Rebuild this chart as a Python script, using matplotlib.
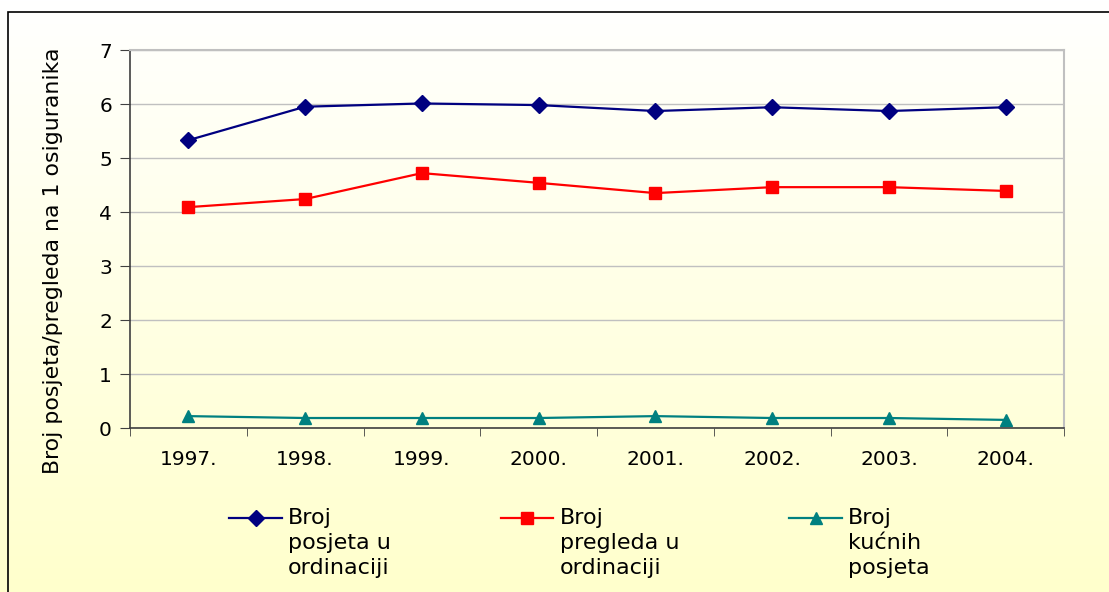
import numpy as np
import matplotlib
matplotlib.use("Agg")
import matplotlib.pyplot as plt
from matplotlib.patches import Rectangle
from matplotlib.lines import Line2D

# data
years = ["1997.", "1998.", "1999.", "2000.", "2001.", "2002.", "2003.", "2004."]
posjete_ordinacija = [5.33, 5.95, 6.01, 5.98, 5.87, 5.94, 5.87, 5.94]
pregledi_ordinacija = [4.09, 4.24, 4.72, 4.54, 4.35, 4.46, 4.46, 4.39]
kucne_posjete = [0.22, 0.185, 0.185, 0.185, 0.22, 0.185, 0.185, 0.15]
labels = ["Broj\nposjeta u\nordinaciji", "Broj\npregleda u\nordinaciji", "Broj\nkućnih\nposjeta"]

plt.rcParams['font.family'] = ['DejaVu Sans']

W, H = 1109, 592
fig = plt.figure(figsize=(W / 100, H / 100), dpi=100)


def fx(px):
    return px / W


def fy(py):
    return 1 - py / H


# background gradient white -> pale yellow
bg = fig.add_axes([0, 0, 1, 1], zorder=-10)
grad = np.linspace(0, 1, 256).reshape(-1, 1)
top = np.array([1.0, 1.0, 1.0])
bottom = np.array([1.0, 1.0, 0.80])
img = top + (bottom - top) * grad[:, :, None]
bg.imshow(img, aspect='auto', extent=[0, 1, 0, 1], origin='upper')
bg.set_xlim(0, 1)
bg.set_ylim(0, 1)
bg.axis('off')
bg.add_patch(Rectangle((fx(8), -0.01), 1.02, fy(12) + 0.01,
                       fill=False, edgecolor='black', linewidth=1.2))

ax = fig.add_axes([fx(130), fy(428), fx(1064) - fx(130), fy(50) - fy(428)])
ax.set_facecolor('none')

x = np.arange(len(years))
ax.plot(x, posjete_ordinacija, color='#000080', marker='D', markersize=8, linewidth=1.6)
ax.plot(x, pregledi_ordinacija, color='#FF0000', marker='s', markersize=8, linewidth=1.6)
ax.plot(x, kucne_posjete, color='#008080', marker='^', markersize=9, linewidth=1.6)

ax.set_xlim(-0.5, len(years) - 0.5)
ax.set_ylim(0, 7)
ax.set_yticks(range(0, 8))
ax.set_xticks(x)
ax.set_xticklabels(years)
ax.set_xticks(np.arange(-0.5, len(years)), minor=True)
ax.tick_params(axis='x', which='major', length=0, pad=16, labelsize=14.5)
ax.tick_params(axis='x', which='minor', length=6, direction='out', color='#404040')
ax.tick_params(axis='y', length=7, direction='out', color='#404040', labelsize=14.5, pad=6)
ax.grid(axis='y', color='#c0c0c0', linewidth=1)
ax.set_axisbelow(True)

for s in ['top', 'right']:
    ax.spines[s].set_color('#c0c0c0')
    ax.spines[s].set_linewidth(1.5)
for s in ['left', 'bottom']:
    ax.spines[s].set_color('#404040')
    ax.spines[s].set_linewidth(1.2)

fig.text(fx(53), fy(261), 'Broj posjeta/pregleda na 1 osiguranika', fontsize=15.8,
         rotation=90, ha='center', va='center')

# legend: handle aligned with the first line of each label
line_x = [(229, 282), (501, 553), (789, 842)]
text_x = [288, 560, 848]
for (x0, x1), tx, ln, lab in zip(line_x, text_x, ax.get_lines(), labels):
    fig.add_artist(Line2D([fx(x0), fx(x1)], [fy(518), fy(518)], transform=fig.transFigure,
                          color=ln.get_color(), linewidth=1.6))
    fig.add_artist(Line2D([fx((x0 + x1) / 2)], [fy(518)], transform=fig.transFigure,
                          color=ln.get_color(), marker=ln.get_marker(),
                          markersize=ln.get_markersize()))
    fig.text(fx(tx), fy(508), lab, fontsize=16, va='top', ha='left', linespacing=1.3)

fig.savefig('out.png', dpi=100)
